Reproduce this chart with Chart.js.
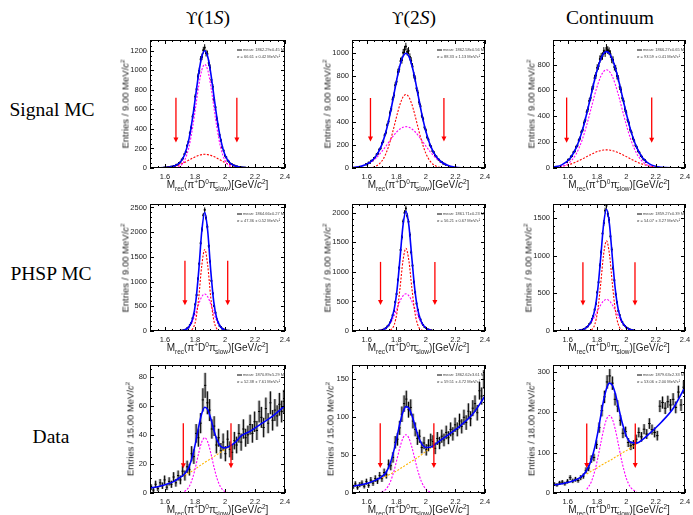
<!DOCTYPE html>
<html lang="en">
<head>
<meta charset="UTF-8">
<title>Mrec fits</title>
<script src="https://cdn.jsdelivr.net/npm/chart.js"></script>
<style>
  body { margin: 0; background: #fff; }
  #page { position: relative; width: 693px; height: 515px; overflow: hidden; }
  .lbl { position: absolute; transform: translate(-50%, -50%); white-space: nowrap; color: #000; }
  .serif { font-family: "Liberation Serif", "Times New Roman", serif; font-size: 19.5px; }
  .ups { font-family: "DejaVu Serif", serif; font-size: 17px; }
  .xt { position: absolute; transform: translateX(-50%); white-space: nowrap; color: #222;
        font-family: "Liberation Sans", Arial, sans-serif; font-size: 10px; }
  .yt { position: absolute; transform: translate(-50%, -50%) rotate(-90deg); white-space: nowrap; color: #222;
        font-family: "Liberation Sans", Arial, sans-serif; font-size: 9.5px; }
  sub, sup { font-size: 65%; line-height: 0; }
  .sl { margin-left: -3px; }
</style>
</head>
<body>
<div id="page"></div>

<script>
  // fit curves sampled on this grid (GeV/c^2)
  const curveX = [1.50, 1.56, 1.62, 1.66, 1.70, 1.73, 1.76, 1.785, 1.805, 1.825, 1.845, 1.865, 1.885,
                  1.905, 1.925, 1.945, 1.97, 2.00, 2.03, 2.07, 2.11, 2.16, 2.24, 2.32, 2.40];
  const xTicks = [1.6, 1.8, 2.0, 2.2, 2.4];

  // ---- Signal MC, Upsilon(1S)
  const sig1sHist = [4, 6, 5, 9, 8, 14, 13, 21, 22, 33, 35, 52, 58, 86, 99, 141, 165, 228, 268, 356,
    415, 527, 600, 731, 806, 936, 995, 1112, 1138, 1205, 1232, 1176, 1168, 1075, 1028, 902, 831, 700, 622, 505,
    436, 338, 284, 211, 178, 127, 109, 76, 66, 45, 40, 27, 26, 17, 16, 11, 10, 7, 6, 4, 4];
  const sig1sTotal = [0.2, 1.3, 7, 20, 57, 133, 298, 525, 749, 972, 1138, 1200, 1138, 972, 749, 525, 298, 133, 57, 20, 7, 2, 0, 0, 0];
  const sig1sNarrow = [0, 0, 0, 2.5, 21, 77, 217, 423, 632, 843, 1001, 1060, 1001, 843, 632, 423, 217, 77, 21, 2.5, 0, 0, 0, 0, 0];
  const sig1sWide = [0.2, 1.3, 7, 17, 36, 56, 81, 102, 117, 129, 137, 140, 137, 129, 117, 102, 81, 56, 36, 17, 7, 2, 0, 0, 0];
  const sig1sArrows = [[1.673, 720, 260], [2.079, 720, 260]];
  const sig1sYTicks = [0, 200, 400, 600, 800, 1000, 1200];
  const sig1sLegend = ['mean: 1862.29±0.45 MeV/c²', 'σ = 66.61 ± 0.42 MeV/c²'];

  // ---- Signal MC, Upsilon(2S)
  const sig2sHist = [33, 31, 47, 45, 63, 66, 86, 91, 118, 126, 160, 172, 214, 232, 285, 309, 374, 405, 479, 515,
    597, 633, 721, 752, 836, 860, 931, 940, 1005, 1032, 1058, 1012, 1021, 968, 935, 884, 808, 779, 694, 656,
    573, 538, 455, 426, 354, 329, 268, 247, 201, 186, 148, 137, 108, 99, 77, 72, 56, 52, 39, 37, 28];
  const sig2sTotal = [3.5, 14, 48, 99, 197, 318, 485, 650, 783, 895, 973, 1000, 973, 895, 783, 650, 485, 318, 197, 99, 48, 18, 2.7, 0.3, 0];
  const sig2sNarrow = [0, 0, 3, 15, 57, 127, 240, 362, 465, 555, 618, 640, 618, 555, 465, 362, 240, 127, 57, 15, 3, 0.3, 0, 0, 0];
  const sig2sWide = [3.5, 14, 45, 84, 140, 191, 245, 288, 318, 340, 355, 360, 355, 340, 318, 288, 245, 191, 140, 84, 45, 17.5, 2.7, 0.3, 0];
  const sig2sArrows = [[1.625, 610, 230], [2.122, 610, 230]];
  const sig2sYTicks = [0, 200, 400, 600, 800, 1000];
  const sig2sLegend = ['mean: 1862.58±0.56 MeV/c²', 'σ = 88.33 ± 1.13 MeV/c²'];

  // ---- Signal MC, continuum
  const sigContHist = [46, 64, 67, 88, 94, 121, 130, 162, 174, 214, 229, 278, 296, 349, 372, 432, 455, 519, 543, 608,
    631, 695, 716, 775, 788, 842, 861, 866, 905, 889, 928, 912, 903, 881, 840, 835, 781, 770, 712, 692,
    628, 605, 541, 516, 455, 429, 372, 347, 296, 275, 230, 211, 175, 160, 131, 119, 95, 86, 68, 62, 48];
  const sigContTotal = [6.5, 24, 80, 161, 291, 421, 567, 688, 773, 841, 885, 900, 885, 841, 773, 688, 567, 421, 291, 161, 80, 30, 5, 0.7, 0.1];
  const sigContNarrow = [1.8, 11, 50, 113, 221, 333, 461, 569, 645, 707, 746, 760, 746, 707, 645, 569, 461, 333, 221, 113, 50, 15, 1.3, 0, 0];
  const sigContWide = [4.7, 13, 30, 48, 70, 88, 106, 119, 128, 134, 139, 140, 139, 134, 128, 119, 106, 88, 70, 48, 30, 15, 3.9, 0.7, 0.1];
  const sigContArrows = [[1.593, 545, 196], [2.173, 545, 196]];
  const sigContYTicks = [0, 200, 400, 600, 800];
  const sigContLegend = ['mean: 1866.27±0.65 MeV/c²', 'σ = 93.59 ± 0.41 MeV/c²'];

  // ---- PHSP MC, Upsilon(1S)
  const phsp1sHist = [1, 3, 3, 9, 10, 23, 28, 55, 71, 120, 158, 256, 347, 538, 727, 1058, 1360, 1776, 2054, 2342,
    2452, 2290, 2110, 1722, 1405, 1015, 762, 507, 371, 236, 173, 107, 80, 47, 34, 18, 13, 6, 5, 2, 1];
  const phsp1sTotal = [0, 0, 0, 0, 3, 20, 87, 256, 588, 1223, 2013, 2400, 2013, 1223, 588, 256, 87, 20, 3, 0, 0, 0, 0, 0, 0];
  const phsp1sNarrow = [0, 0, 0, 0, 0, 0, 3.6, 47, 223, 678, 1321, 1650, 1321, 678, 223, 47, 3.6, 0, 0, 0, 0, 0, 0, 0, 0];
  const phsp1sWide = [0, 0, 0, 0, 3.2, 20, 83, 209, 365, 545, 692, 750, 692, 545, 365, 209, 83, 20, 3.2, 0, 0, 0, 0, 0, 0];
  const phsp1sArrows = [[1.733, 1420, 520], [2.018, 1420, 520]];
  const phsp1sYTicks = [0, 500, 1000, 1500, 2000, 2500];
  const phsp1sLegend = ['mean: 1864.66±0.27 MeV/c²', 'σ = 47.36 ± 0.52 MeV/c²'];

  // ---- PHSP MC, Upsilon(2S)
  const phsp2sHist = [9, 9, 19, 21, 39, 47, 76, 94, 144, 180, 265, 340, 489, 626, 864, 1070, 1373, 1588, 1856, 2001,
    2075, 1950, 1852, 1630, 1332, 1108, 830, 655, 465, 358, 248, 195, 131, 103, 68, 54, 32, 26, 14, 12, 6];
  const phsp2sTotal = [0, 0, 0, 1.8, 14, 51, 152, 362, 704, 1234, 1785, 2030, 1785, 1234, 704, 362, 152, 51, 14, 1.8, 0, 0, 0, 0, 0];
  const phsp2sNarrow = [0, 0, 0, 0, 0, 0.8, 15.6, 103, 322, 729, 1189, 1400, 1189, 729, 322, 103, 15.6, 0.8, 0, 0, 0, 0, 0, 0, 0];
  const phsp2sWide = [0, 0, 0, 1.8, 14.4, 50, 136, 259, 382, 505, 596, 630, 596, 505, 382, 259, 136, 50, 14.4, 1.8, 0, 0, 0, 0, 0];
  const phsp2sArrows = [[1.693, 1170, 440], [2.061, 1170, 440]];
  const phsp2sYTicks = [0, 500, 1000, 1500, 2000];
  const phsp2sLegend = ['mean: 1861.71±0.23 MeV/c²', 'σ = 56.21 ± 0.67 MeV/c²'];

  // ---- PHSP MC, continuum
  const phspContHist = [11, 12, 17, 29, 33, 54, 62, 92, 111, 160, 199, 284, 362, 514, 648, 872, 1049, 1298, 1437, 1602,
    1668, 1560, 1478, 1259, 1084, 840, 675, 489, 381, 268, 211, 149, 120, 84, 69, 47, 38, 24, 20, 12, 10];
  const phspContTotal = [0, 0, 0.3, 2.9, 17, 50, 127, 285, 550, 971, 1420, 1620, 1420, 971, 550, 285, 127, 50, 17, 2.9, 0.3, 0, 0, 0, 0];
  const phspContNarrow = [0, 0, 0, 0, 0, 0.7, 13, 88, 276, 624, 1019, 1200, 1019, 624, 276, 88, 13, 0.7, 0, 0, 0, 0, 0, 0, 0];
  const phspContWide = [0, 0, 0.3, 2.9, 17, 49, 114, 197, 274, 347, 401, 420, 401, 347, 274, 197, 114, 49, 17, 2.9, 0.3, 0, 0, 0, 0];
  const phspContArrows = [[1.704, 915, 340], [2.059, 915, 340]];
  const phspContYTicks = [0, 500, 1000, 1500];
  const phspContLegend = ['mean: 1859.27±0.39 MeV/c²', 'σ = 54.07 ± 3.27 MeV/c²'];

  // ---- Data, Upsilon(1S)
  const data1sHist = [4, 2, 6, 3, 7, 5, 9, 4, 8, 6, 11, 7, 12, 9, 15, 12, 18, 16, 27, 25,
    41, 38, 48, 64, 74, 62, 57, 44, 46, 33, 38, 29, 35, 27, 37, 30, 28, 36, 33, 41,
    35, 44, 38, 40, 47, 41, 49, 43, 56, 52, 45, 58, 48, 62, 50, 57, 53, 61, 56, 63];
  const data1sTotal = [3.5, 4.5, 6.3, 8, 10.7, 13, 18, 25.9, 35.2, 45.8, 54.7, 59, 57.4, 51.2, 43.5, 36.9, 32.2, 31, 32.2, 35, 39.5, 42, 47.5, 53, 60];
  const data1sSignal = [null, null, null, null, null, 1, 4.2, 10.6, 18.5, 27.6, 35.1, 38, 35.1, 27.6, 18.5, 10.6, 4.2, 1, 0.16, null, null, null, null, null, null];
  const data1sBkg = [null, null, null, null, null, 12, 13.8, 15.3, 16.7, 18.2, 19.6, 21, 22.3, 23.6, 25, 26.3, 28, 30, 32, null, null, null, null, null, null];
  const data1sArrows = [[1.722, 48, 17], [2.04, 48, 17]];
  const data1sYTicks = [0, 20, 40, 60, 80];
  const data1sLegend = ['mean: 1870.89±5.29 MeV/c²', 'σ = 52.38 ± 7.61 MeV/c²'];

  // ---- Data, Upsilon(2S)
  const data2sHist = [8, 12, 7, 11, 13, 9, 15, 10, 17, 13, 19, 16, 23, 19, 27, 24, 38, 36, 47, 67,
    71, 86, 104, 118, 124, 110, 113, 95, 84, 72, 75, 60, 66, 57, 63, 70, 68, 59, 72, 66,
    75, 70, 80, 73, 84, 78, 90, 84, 95, 88, 100, 93, 108, 98, 112, 118, 106, 135, 128, 150];
  const data2sTotal = [9, 11, 14, 17, 21.3, 27.1, 40, 57.2, 74.6, 92.7, 107, 114, 112, 102.7, 89.6, 76.7, 65.5, 60.1, 60.3, 65.2, 71, 78, 90, 105, 128];
  const data2sSignal = [null, null, null, null, 1.3, 5.1, 15, 29.7, 45.1, 60.7, 72.5, 77, 72.5, 60.7, 45.1, 29.7, 15, 5.1, 1.3, 0.15, null, null, null, null, null];
  const data2sBkg = [null, null, null, null, 20, 22, 25, 27.5, 29.5, 32, 34.5, 37, 39.5, 42, 44.5, 47, 50.5, 55, 59, 65, null, null, null, null, null];
  const data2sArrows = [[1.691, 92, 33], [2.054, 92, 33]];
  const data2sYTicks = [0, 50, 100, 150];
  const data2sLegend = ['mean: 1862.62±3.61 MeV/c²', 'σ = 59.51 ± 4.72 MeV/c²'];

  // ---- Data, continuum
  const dataContHist = [22, 20, 25, 27, 23, 29, 38, 30, 34, 31, 38, 42, 56, 62, 84, 88, 120, 162, 204, 238,
    275, 290, 272, 232, 215, 180, 148, 152, 125, 117, 120, 133, 150, 139, 158, 146, 172, 157, 150, 142,
    215, 224, 210, 226, 218, 232, 212, 250, 218, 262];
  const dataContTotal = [19, 23, 28, 33.3, 42.6, 56.3, 80.8, 113.5, 148.7, 190, 229, 258.6, 272, 266.6, 246, 215, 176.3, 141.3, 125.6, 123.6, 132, 148, 176, 210, 262];
  const dataContSignal = [null, null, null, null, null, 9.3, 26.8, 54.5, 85.7, 122, 157, 182.6, 192, 182.6, 157, 122, 77.3, 36.3, 13.6, 2.6, null, null, null, null, null];
  const dataContBkg = [null, null, null, null, null, 47, 54, 59, 63, 68, 72, 76, 80, 84, 89, 93, 99, 105, 112, 121, null, null, null, null, null];
  const dataContArrows = [[1.73, 172, 62], [2.061, 172, 62]];
  const dataContYTicks = [0, 100, 200, 300];
  const dataContLegend = ['mean: 1879.63±2.33 MeV/c²', 'σ = 53.06 ± 2.00 MeV/c²'];

  const rowLabels = ['Signal MC', 'PHSP MC', 'Data'];

  const RED = '#ff0000', MAG = '#ff00ff', ORANGE = '#ffb400', BLUE = '#0000ff';
  const SANS = '"Liberation Sans", Arial, sans-serif';

  const colX = [150, 352, 553], colW = [135, 133, 132];
  const rowY = [40, 204, 365], rowH = [128, 127, 128];

  const panels = [
    { r: 0, c: 0, hist: sig1sHist, h0: 1.5945, bw: 0.009, mc: true, total: sig1sTotal,
      comps: [[sig1sNarrow, MAG], [sig1sWide, RED]], arrows: sig1sArrows, yTicks: sig1sYTicks, yMax: 1310, yMinor: 50,
      legend: sig1sLegend, bin: '9.00', ytOff: 25 },
    { r: 0, c: 1, hist: sig2sHist, h0: 1.5945, bw: 0.009, mc: true, total: sig2sTotal,
      comps: [[sig2sNarrow, RED], [sig2sWide, MAG]], arrows: sig2sArrows, yTicks: sig2sYTicks, yMax: 1115, yMinor: 50,
      legend: sig2sLegend, bin: '9.00', ytOff: 25 },
    { r: 0, c: 2, hist: sigContHist, h0: 1.5945, bw: 0.009, mc: true, total: sigContTotal,
      comps: [[sigContNarrow, MAG], [sigContWide, RED]], arrows: sigContArrows, yTicks: sigContYTicks, yMax: 990, yMinor: 50,
      legend: sigContLegend, bin: '9.00', ytOff: 22 },
    { r: 1, c: 0, hist: phsp1sHist, h0: 1.6845, bw: 0.009, mc: true, total: phsp1sTotal,
      comps: [[phsp1sNarrow, RED], [phsp1sWide, MAG]], arrows: phsp1sArrows, yTicks: phsp1sYTicks, yMax: 2570, yMinor: 100,
      legend: phsp1sLegend, bin: '9.00', ytOff: 25 },
    { r: 1, c: 1, hist: phsp2sHist, h0: 1.6845, bw: 0.009, mc: true, total: phsp2sTotal,
      comps: [[phsp2sNarrow, RED], [phsp2sWide, MAG]], arrows: phsp2sArrows, yTicks: phsp2sYTicks, yMax: 2150, yMinor: 100,
      legend: phsp2sLegend, bin: '9.00', ytOff: 25 },
    { r: 1, c: 2, hist: phspContHist, h0: 1.6845, bw: 0.009, mc: true, total: phspContTotal,
      comps: [[phspContNarrow, RED], [phspContWide, MAG]], arrows: phspContArrows, yTicks: phspContYTicks, yMax: 1690, yMinor: 100,
      legend: phspContLegend, bin: '9.00', ytOff: 25 },
    { r: 2, c: 0, hist: data1sHist, h0: 1.5075, bw: 0.015, mc: false, total: data1sTotal,
      comps: [[data1sSignal, MAG], [data1sBkg, ORANGE]], arrows: data1sArrows, yTicks: data1sYTicks, yMax: 88, yMinor: 5,
      legend: data1sLegend, bin: '15.00', ytOff: 20 },
    { r: 2, c: 1, hist: data2sHist, h0: 1.5075, bw: 0.015, mc: false, total: data2sTotal,
      comps: [[data2sSignal, MAG], [data2sBkg, ORANGE]], arrows: data2sArrows, yTicks: data2sYTicks, yMax: 169, yMinor: 10,
      legend: data2sLegend, bin: '15.00', ytOff: 22 },
    { r: 2, c: 2, hist: dataContHist, h0: 1.509, bw: 0.018, mc: false, total: dataContTotal,
      comps: [[dataContSignal, MAG], [dataContBkg, ORANGE]], arrows: dataContArrows, yTicks: dataContYTicks, yMax: 317, yMinor: 20,
      legend: dataContLegend, bin: '18.00', ytOff: 22 }
  ];

  const page = document.getElementById('page');

  function addDiv(cls, html, x, y) {
    const d = document.createElement('div');
    d.className = cls;
    d.innerHTML = html;
    d.style.left = x + 'px';
    d.style.top = y + 'px';
    page.appendChild(d);
    return d;
  }

  // headers and row names
  addDiv('lbl serif', '<span class="ups">ϒ</span>(1<i>S</i>)', 208, 18);
  addDiv('lbl serif', '<span class="ups">ϒ</span>(2<i>S</i>)', 414, 18);
  addDiv('lbl serif', 'Continuum', 610, 18);
  addDiv('lbl serif', rowLabels[0], 52, 110);
  addDiv('lbl serif', rowLabels[1], 51, 274);
  addDiv('lbl serif', rowLabels[2], 51, 437);

  function curve(vals, color, width, dash) {
    return {
      data: curveX.map((x, i) => ({ x: x, y: vals[i] })),
      showLine: true, borderColor: color, borderWidth: width, borderDash: dash,
      pointRadius: 0, cubicInterpolationMode: 'monotone', spanGaps: false, fill: false
    };
  }

  function makePanel(p) {
    const fx = colX[p.c], fy = rowY[p.r], fw = colW[p.c], fh = rowH[p.r];
    const W = fw + 48, H = fh + 20;
    const box = document.createElement('div');
    box.style.cssText = `position:absolute;left:${fx - 40}px;top:${fy - 4}px;width:${W}px;height:${H}px;`;
    const cv = document.createElement('canvas');
    cv.width = W; cv.height = H;
    cv.style.width = W + 'px'; cv.style.height = H + 'px';
    box.appendChild(cv);
    page.appendChild(box);

    // axis titles
    addDiv('xt', 'M<sub>rec</sub>(π<sup>+</sup>D<sup>0</sup>π<sup>-</sup><sub class="sl">slow</sub>)[GeV/<i>c</i><sup>2</sup>]',
      fx + fw / 2, fy + fh + 11);
    addDiv('yt', 'Entries / ' + p.bin + ' MeV/<i>c</i><sup>2</sup>', fx - p.ytOff, fy + fh / 2);

    const histPts = p.hist.map((v, i) => ({ x: p.h0 + i * p.bw, y: v }));

    const datasets = [curve(p.total, BLUE, 1.6, [])];
    p.comps.forEach(cm => datasets.push(curve(cm[0], cm[1], 1.1, [2, 1.5])));
    datasets.push({
      data: histPts, showLine: false, pointStyle: 'rect',
      pointRadius: p.mc ? 1.3 : 0, backgroundColor: '#000', borderWidth: 0
    });

    const errBars = {
      id: 'errBars',
      beforeDatasetsDraw(chart) {
        const { ctx, chartArea: a, scales: { x, y } } = chart;
        ctx.save();
        ctx.beginPath();
        ctx.rect(a.left, a.top, a.right - a.left, a.bottom - a.top);
        ctx.clip();
        p.hist.forEach((v, i) => {
          const c = p.h0 + i * p.bw;
          const e = Math.sqrt(v);
          const px = x.getPixelForValue(c);
          const yt = y.getPixelForValue(v + e), yb = y.getPixelForValue(Math.max(v - e, 0));
          const yc = y.getPixelForValue(v);
          const xl = x.getPixelForValue(c - p.bw / 2), xr = x.getPixelForValue(c + p.bw / 2);
          if (!p.mc) {
            ctx.fillStyle = 'rgba(0,0,0,0.25)';
            ctx.fillRect(px - 1.5, yt, 3, yb - yt);
          }
          ctx.strokeStyle = '#000';
          ctx.lineWidth = 1;
          ctx.beginPath();
          ctx.moveTo(px, yt); ctx.lineTo(px, yb);
          ctx.moveTo(xl, yc); ctx.lineTo(xr, yc);
          ctx.stroke();
        });
        ctx.restore();
      },
      afterDatasetsDraw(chart) {
        const { ctx, chartArea: a, scales: { x, y } } = chart;
        ctx.save();
        ctx.beginPath();
        ctx.rect(a.left, a.top, a.right - a.left, a.bottom - a.top);
        ctx.clip();

        // cut arrows
        ctx.strokeStyle = RED; ctx.fillStyle = RED; ctx.lineWidth = 1.3;
        p.arrows.forEach(ar => {
          const px = x.getPixelForValue(ar[0]);
          const pt = y.getPixelForValue(ar[1]), pb = y.getPixelForValue(ar[2]);
          ctx.beginPath(); ctx.moveTo(px, pt); ctx.lineTo(px, pb - 4); ctx.stroke();
          ctx.beginPath(); ctx.moveTo(px - 2.5, pb - 5); ctx.lineTo(px + 2.5, pb - 5); ctx.lineTo(px, pb); ctx.closePath(); ctx.fill();
        });

        // fit result box
        ctx.strokeStyle = '#000'; ctx.lineWidth = 1;
        ctx.beginPath(); ctx.moveTo(a.right - 48, a.top + 10); ctx.lineTo(a.right - 43, a.top + 10); ctx.stroke();
        ctx.fillStyle = '#444';
        ctx.font = '4px ' + SANS;
        ctx.textBaseline = 'middle';
        ctx.fillText(p.legend[0], a.right - 42, a.top + 10);
        ctx.fillText(p.legend[1], a.right - 48, a.top + 17);
        ctx.restore();

        // frame and ticks on all sides
        ctx.save();
        ctx.strokeStyle = '#000'; ctx.lineWidth = 1;
        ctx.strokeRect(Math.round(a.left) + 0.5, Math.round(a.top) + 0.5,
          Math.round(a.right - a.left) - 1, Math.round(a.bottom - a.top) - 1);
        ctx.beginPath();
        for (let i = 0; i <= 18; i++) {
          const px = Math.round(x.getPixelForValue(1.5 + i * 0.05)) + 0.5;
          const L = (i % 4 === 2) ? 4 : 2;
          ctx.moveTo(px, a.bottom); ctx.lineTo(px, a.bottom - L);
          ctx.moveTo(px, a.top); ctx.lineTo(px, a.top + L);
        }
        const step = p.yTicks[1] - p.yTicks[0];
        const ratio = Math.round(step / p.yMinor);
        for (let k = 0; k * p.yMinor <= p.yMax; k++) {
          const py = Math.round(y.getPixelForValue(k * p.yMinor)) + 0.5;
          const L = (k % ratio === 0) ? 4 : 2;
          ctx.moveTo(a.left, py); ctx.lineTo(a.left + L, py);
          ctx.moveTo(a.right, py); ctx.lineTo(a.right - L, py);
        }
        ctx.stroke();
        ctx.restore();
      }
    };

    new Chart(cv, {
      type: 'scatter',
      data: { datasets: datasets },
      plugins: [errBars],
      options: {
        responsive: false,
        animation: false,
        events: [],
        devicePixelRatio: 1,
        layout: { padding: { left: 0, top: 4, right: 8, bottom: 0 } },
        plugins: { legend: { display: false }, tooltip: { enabled: false } },
        scales: {
          x: {
            type: 'linear', min: 1.5, max: 2.4,
            afterBuildTicks: s => { s.ticks = xTicks.map(v => ({ value: v })); },
            afterFit: s => { s.height = 16; s.paddingLeft = 0; s.paddingRight = 0; },
            grid: { display: false, drawTicks: false },
            border: { display: false },
            ticks: {
              font: { family: SANS, size: 7.5 }, color: '#222', padding: 4,
              maxRotation: 0, autoSkip: false,
              callback: v => String(Math.round(v * 10) / 10)
            }
          },
          y: {
            type: 'linear', min: 0, max: p.yMax,
            afterBuildTicks: s => { s.ticks = p.yTicks.map(v => ({ value: v })); },
            afterFit: s => { s.width = 40; s.paddingTop = 0; s.paddingBottom = 0; },
            grid: { display: false, drawTicks: false },
            border: { display: false },
            ticks: {
              font: { family: SANS, size: 7.5 }, color: '#222', padding: 3,
              autoSkip: false,
              callback: v => String(v)
            }
          }
        }
      }
    });
  }

  panels.forEach(makePanel);
</script>
</body>
</html>
